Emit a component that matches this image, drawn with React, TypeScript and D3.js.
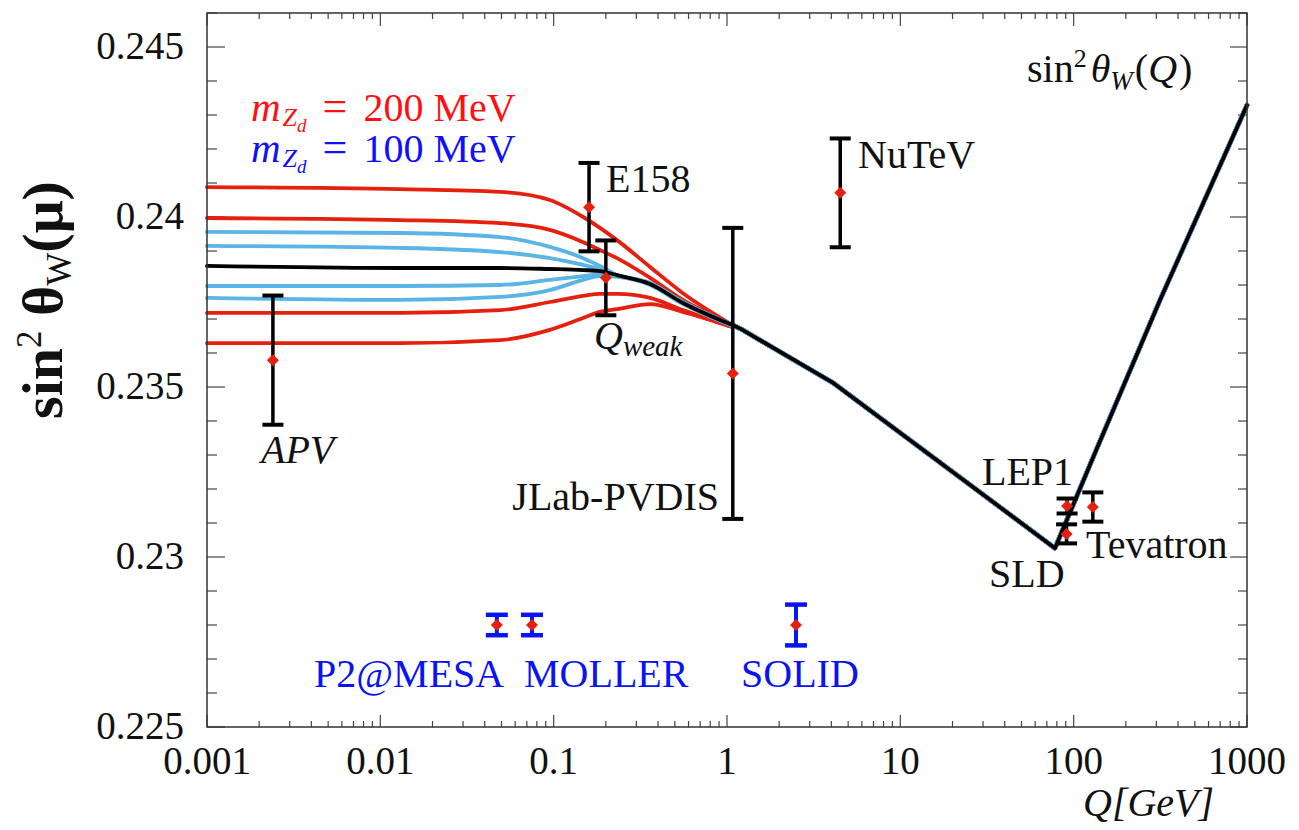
import React from "react";
import * as d3 from "d3";

// ---------- data ----------
const qHead = [0.001, 0.013, 0.049, 0.095, 0.148, 0.185, 0.232, 0.36, 0.557, 1.08];
const red1 = [0.24088, 0.24082, 0.24074, 0.2405, 0.24, 0.23968, 0.23932, 0.23853, 0.23776, 0.23682];
const red2 = [0.23997, 0.23991, 0.23982, 0.23962, 0.23926, 0.23903, 0.23879, 0.23821, 0.23756, 0.23682];
const blue1 = [0.23956, 0.23953, 0.23941, 0.23912, 0.23879, 0.23856, 0.23829, 0.23806, 0.2375, 0.23682];
const blue2 = [0.23915, 0.23909, 0.23897, 0.23879, 0.23859, 0.23847, 0.23829, 0.23806, 0.2375, 0.23682];
const blackHead = [0.23856, 0.2385, 0.2385, 0.23847, 0.23844, 0.23841, 0.23829, 0.23803, 0.23747, 0.23682];
const blue3 = [0.23797, 0.23797, 0.238, 0.23815, 0.23826, 0.23832, 0.23826, 0.23803, 0.23747, 0.23682];
const blue4 = [0.23762, 0.23756, 0.23765, 0.23785, 0.23815, 0.23826, 0.23824, 0.238, 0.23744, 0.23679];
const red3 = [0.23718, 0.23718, 0.23726, 0.2375, 0.23768, 0.23774, 0.23774, 0.23762, 0.23726, 0.23676];
const red4 = [0.23629, 0.23629, 0.23638, 0.23668, 0.23703, 0.23721, 0.23729, 0.23744, 0.23721, 0.23676];

const qTail = [1.08, 1.2, 4.1, 78, 135, 315, 1000];
const blackTail = [0.23682, 0.23671, 0.23512, 0.23026, 0.23315, 0.23756, 0.24329];

const expNames = ["APV", "E158", "Qweak", "JLab-PVDIS", "NuTeV", "LEP1", "SLD", "Tevatron"];
const expQ = [0.0024, 0.16, 0.2, 1.08, 4.5, 91.6, 91, 129];
const expVal = [0.23579, 0.24029, 0.23821, 0.2354, 0.24071, 0.2315, 0.23068, 0.23147];
const expErr = [0.0019, 0.0013, 0.0011, 0.00428, 0.0016, 0.00022, 0.00028, 0.00043];

const futNames = ["P2@MESA", "MOLLER", "SOLID"];
const futQ = [0.047, 0.075, 2.5];
const futVal = [0.228, 0.228, 0.228];
const futErr = [0.0003, 0.0003, 0.0006];

const yTickLabels = ["0.225", "0.23", "0.235", "0.24", "0.245"];
const xTickLabels = ["0.001", "0.01", "0.1", "1", "10", "100", "1000"];

// ---------- layout ----------
const W = 1299;
const H = 830;
const L = 207, R = 1247, T = 13, B = 727;
const FONT = "'Liberation Serif', 'DejaVu Serif', serif";
const RED = "#e5200f";
const SKY = "#5ab4e5";
const BLUE = "#0a14f0";
const FS = 40;

export default function App() {
  const x = d3.scaleLog().domain([0.001, 1000]).range([L, R]);
  const y = d3.scaleLinear().domain([0.225, 0.246]).range([B, T]);

  const headLine = d3
    .line<number>()
    .x((_, i) => x(qHead[i]))
    .y((d) => y(d))
    .curve(d3.curveMonotoneX);
  const tailLine = d3
    .line<number>()
    .x((_, i) => x(qTail[i]))
    .y((d) => y(d))
    .curve(d3.curveLinear);

  // ticks
  const yMinor = d3.range(0, 22).map((i) => 0.225 + i * 0.001);
  const xMajor = d3.range(-3, 4).map((e) => Math.pow(10, e));
  const xMinor: number[] = [];
  for (let e = -3; e < 3; e++) for (let k = 2; k <= 9; k++) xMinor.push(k * Math.pow(10, e));

  const colored = [
    { v: red1, c: RED },
    { v: red2, c: RED },
    { v: red3, c: RED },
    { v: red4, c: RED },
    { v: blue1, c: SKY },
    { v: blue2, c: SKY },
    { v: blue3, c: SKY },
    { v: blue4, c: SKY },
  ];

  const diamond = (cx: number, cy: number, r: number) =>
    `M${cx},${cy - r}L${cx + r},${cy}L${cx},${cy + r}L${cx - r},${cy}Z`;

  const txt = { fontFamily: FONT, fill: "#111" } as const;

  return (
    <svg width={W} height={H} style={{ position: "absolute", left: 0, top: 0, background: "#fff" }}>
      {/* axis ticks */}
      <g stroke="#444" strokeWidth={1.2}>
        {yMinor.map((v, i) => {
          const major = i % 5 === 0;
          return (
            <g key={"y" + i}>
              <line x1={L} x2={L + (major ? 18 : 10)} y1={y(v)} y2={y(v)} />
              <line x1={R} x2={R - (major ? 17 : 9)} y1={y(v)} y2={y(v)} />
            </g>
          );
        })}
        {xMajor.map((v, i) => (
          <g key={"xM" + i}>
            <line x1={x(v)} x2={x(v)} y1={B} y2={B - 12} />
            <line x1={x(v)} x2={x(v)} y1={T} y2={T + 13} />
          </g>
        ))}
        {xMinor.map((v, i) => (
          <g key={"xm" + i}>
            <line x1={x(v)} x2={x(v)} y1={B} y2={B - 6} />
            <line x1={x(v)} x2={x(v)} y1={T} y2={T + 6} />
          </g>
        ))}
      </g>

      {/* curves */}
      <g fill="none" strokeLinejoin="round" strokeLinecap="round">
        {colored.map((s, i) => (
          <g key={"c" + i}>
            <path d={headLine(s.v) || ""} stroke={s.c} strokeWidth={3.8} />
            <path d={tailLine(blackTail) || ""} stroke={s.c} strokeWidth={4.6} />
          </g>
        ))}
        <path d={headLine(blackHead) || ""} stroke="#000" strokeWidth={3.8} />
        <path d={tailLine(blackTail) || ""} stroke="#000" strokeWidth={3.8} />
      </g>

      {/* existing measurements */}
      {expNames.map((n, i) => {
        const cx = x(expQ[i]);
        const y1 = y(expVal[i] + expErr[i]);
        const y2 = y(expVal[i] - expErr[i]);
        return (
          <g key={n}>
            <line x1={cx} x2={cx} y1={y1} y2={y2} stroke="#000" strokeWidth={3.5} />
            <line x1={cx - 10.5} x2={cx + 10.5} y1={y1} y2={y1} stroke="#000" strokeWidth={4} />
            <line x1={cx - 10.5} x2={cx + 10.5} y1={y2} y2={y2} stroke="#000" strokeWidth={4} />
            <path d={diamond(cx, y(expVal[i]), 6)} fill={RED} />
          </g>
        );
      })}

      {/* future measurements */}
      {futNames.map((n, i) => {
        const cx = x(futQ[i]);
        const y1 = y(futVal[i] + futErr[i]);
        const y2 = y(futVal[i] - futErr[i]);
        return (
          <g key={n}>
            <line x1={cx} x2={cx} y1={y1} y2={y2} stroke={BLUE} strokeWidth={4} />
            <line x1={cx - 11} x2={cx + 11} y1={y1} y2={y1} stroke={BLUE} strokeWidth={4.5} />
            <line x1={cx - 11} x2={cx + 11} y1={y2} y2={y2} stroke={BLUE} strokeWidth={4.5} />
            <path d={diamond(cx, y(futVal[i]), 6)} fill={RED} />
          </g>
        );
      })}

      {/* frame */}
      <rect x={L} y={T} width={R - L} height={B - T} fill="none" stroke="#333" strokeWidth={1.5} />

      {/* tick labels */}
      {yTickLabels.map((t) => (
        <text key={t} x={184} y={y(+t) + 12} textAnchor="end" fontSize={39} {...txt}>
          {t}
        </text>
      ))}
      {xTickLabels.map((t) => (
        <text key={t} x={x(+t)} y={774} textAnchor="middle" fontSize={39} {...txt}>
          {t}
        </text>
      ))}

      {/* axis titles */}
      <text x={1083} y={816} fontSize={FS} fontStyle="italic" {...txt}>
        Q[GeV]
      </text>
      <text
        transform="translate(62,300) rotate(-90)"
        textAnchor="middle"
        fontSize={58}
        fontWeight="bold"
        {...txt}
      >
        <tspan>sin</tspan>
        <tspan dy={-21} fontSize={35} fontWeight="normal">2</tspan>
        <tspan dy={21}> θ</tspan>
        <tspan dy={9} fontSize={35} fontWeight="normal">W</tspan>
        <tspan dy={-9}>(μ)</tspan>
      </text>

      {/* sin^2 theta_W(Q) */}
      <text x={1027} y={82} fontSize={FS} {...txt}>
        <tspan>sin</tspan>
        <tspan dy={-15} fontSize={26}>2</tspan>
        <tspan dy={15} dx={4} fontStyle="italic">θ</tspan>
        <tspan dy={8} fontSize={27} fontStyle="italic">W</tspan>
        <tspan dy={-8} dx={2}>(</tspan>
        <tspan fontStyle="italic">Q</tspan>
        <tspan dx={2}>)</tspan>
      </text>

      {/* legend */}
      {[
        { label: "200 MeV", color: "#ff1010", base: 121 },
        { label: "100 MeV", color: "#1010ff", base: 162 },
      ].map((l) => (
        <text key={l.label} x={251} y={l.base} fill={l.color} fontFamily={FONT} fontSize={FS}>
          <tspan fontStyle="italic" fontSize={41}>m</tspan>
          <tspan dy={5} dx={2} fontSize={26} fontStyle="italic">Z</tspan>
          <tspan dy={6} fontSize={19} fontStyle="italic">d</tspan>
          <tspan dy={-11} dx={16} fontSize={44}>=</tspan>
          <tspan dx={16}>{l.label}</tspan>
        </text>
      ))}

      {/* measurement labels */}
      <text x={606} y={192} fontSize={FS} {...txt}>E158</text>
      <text x={858} y={168} fontSize={FS} {...txt}>NuTeV</text>
      <text x={594} y={349} fontSize={FS} fontStyle="italic" {...txt}>
        Q<tspan dy={7} fontSize={29}>weak</tspan>
      </text>
      <text x={261} y={463} fontSize={FS} fontStyle="italic" {...txt}>APV</text>
      <text x={719} y={510} fontSize={FS} textAnchor="end" {...txt}>JLab-PVDIS</text>
      <text x={982} y={485} fontSize={FS} {...txt}>LEP1</text>
      <text x={989} y={587} fontSize={FS} {...txt}>SLD</text>
      <text x={1086} y={558} fontSize={FS} {...txt}>Tevatron</text>

      <g fill={BLUE} fontFamily={FONT} fontSize={FS}>
        <text x={314} y={687}>P2@MESA</text>
        <text x={524} y={687}>MOLLER</text>
        <text x={741} y={687}>SOLID</text>
      </g>
    </svg>
  );
}
